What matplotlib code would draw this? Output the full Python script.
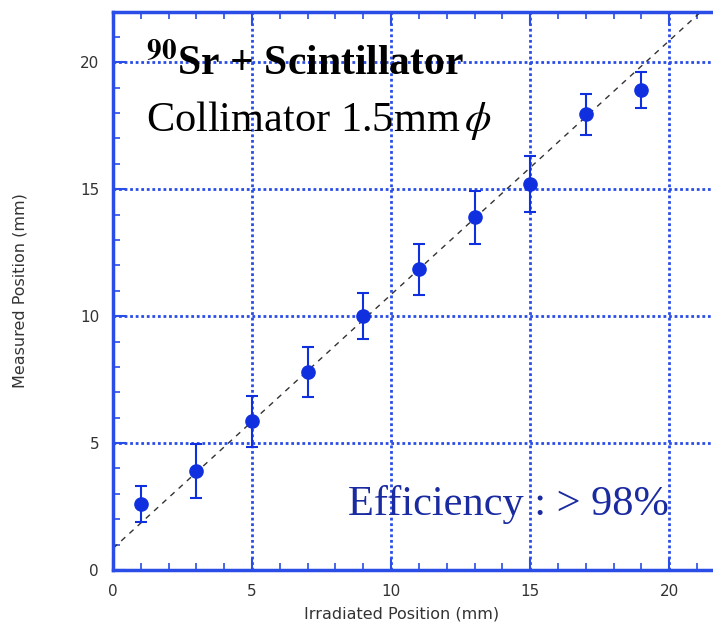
import matplotlib.pyplot as plt
from matplotlib.ticker import MultipleLocator

# irradiated vs. measured beam position, scan across the scintillator
irradiated = [1, 3, 5, 7, 9, 11, 13, 15, 17, 19]
measured = [2.6, 3.9, 5.85, 7.8, 10.0, 11.85, 13.9, 15.2, 17.95, 18.9]
meas_err = [0.7, 1.05, 1.0, 1.0, 0.9, 1.0, 1.05, 1.1, 0.8, 0.7]

# reference line y = x + offset
fit_x = [0, 22]
fit_y = [0.85, 22.85]

blue = '#1030e0'
spine_blue = '#2a4de8'

plt.rcParams['mathtext.fontset'] = 'stix'

fig = plt.figure(figsize=(7.13, 6.31), dpi=100)
ax = fig.add_axes([0.1585, 0.0967, 0.858, 0.885])

ax.set_xlim(0, 22)
ax.set_ylim(0, 22)

ax.plot(fit_x, fit_y, color='#333333', linestyle=(0, (4, 4)), linewidth=1.0, zorder=2)
ax.errorbar(irradiated, measured, yerr=meas_err, fmt='o', color=blue,
            markersize=9.5, ecolor=blue, elinewidth=1.5, capsize=4, capthick=1.5, zorder=3)

ax.xaxis.set_major_locator(MultipleLocator(5))
ax.yaxis.set_major_locator(MultipleLocator(5))
ax.xaxis.set_minor_locator(MultipleLocator(1))
ax.yaxis.set_minor_locator(MultipleLocator(1))
ax.grid(True, which='major', color=spine_blue, linestyle=(0, (1, 1)), linewidth=2.0)
ax.set_axisbelow(True)

for s in ax.spines.values():
    s.set_color(spine_blue)
    s.set_linewidth(2.5)

ax.tick_params(which='both', direction='in', top=True, right=True, color=spine_blue,
               labelcolor='#333333', labelsize=11)
ax.tick_params(which='major', length=9, width=1.5, pad=10)
ax.tick_params(which='minor', length=5, width=1.2)

ax.set_xlabel('Irradiated Position (mm)', fontsize=11.5, color='#333333')
ax.set_ylabel('Measured Position (mm)', fontsize=11.5, color='#333333')
ax.xaxis.set_label_coords(0.471, -0.066)
ax.yaxis.set_label_coords(-0.139, 0.5)

ax.text(1.19, 19.5, r'${}^{\mathbf{90}}$Sr + Scintillator', fontsize=30,
        color='black', family='Liberation Serif', fontweight='bold', va='baseline')
ax.text(1.19, 17.3, r'Collimator 1.5mm$\,\phi$', fontsize=30.5, color='black',
        family='Liberation Serif', va='baseline')
ax.text(8.45, 2.17, 'Efficiency : > 98%', fontsize=30.5, color='#1a2aa0',
        family='Liberation Serif', va='baseline')

fig.savefig('out.png', dpi=100)
